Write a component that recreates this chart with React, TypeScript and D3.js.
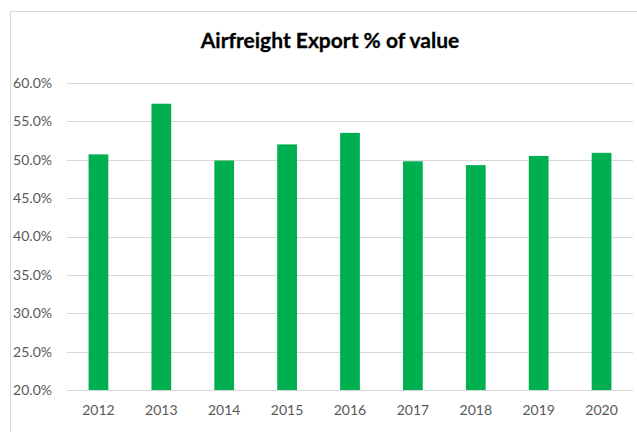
import React from 'react';
import * as d3 from 'd3';

const years = ['2012', '2013', '2014', '2015', '2016', '2017', '2018', '2019', '2020'];
const exportShare = [50.7, 57.3, 49.9, 52.0, 53.5, 49.8, 49.3, 50.5, 50.9];
const yTicks = [20, 25, 30, 35, 40, 45, 50, 55, 60];

const W = 637;
const H = 432;
const margin = { top: 83, right: 4, bottom: 42, left: 67 };

export default function App() {
  const x = d3
    .scaleBand()
    .domain(years)
    .range([margin.left, W - margin.right])
    .paddingInner(0.686)
    .paddingOuter(0.343);

  const y = d3.scaleLinear().domain([20, 60]).range([H - margin.bottom, margin.top]);

  const font = 'Lato, "Open Sans", sans-serif';

  return (
    <svg
      width={W}
      height={H}
      style={{ position: 'absolute', left: 0, top: 0, background: '#fff' }}
    >
      {/* chart area border */}
      <rect x={10.5} y={11.5} width={W} height={H} fill="none" stroke="#d9d9d9" />
      <text
        x={330}
        y={48}
        textAnchor="middle"
        fontFamily={font}
        fontWeight="bold"
        fontSize={21}
        stroke="#000"
        strokeWidth={0.3}
        fill="#000"
      >
        Airfreight Export % of value
      </text>

      {yTicks.map((t) => (
        <g key={t}>
          <line
            x1={margin.left}
            x2={W - margin.right}
            y1={Math.round(y(t)) + 0.5}
            y2={Math.round(y(t)) + 0.5}
            stroke="#d9d9d9"
          />
          <text
            x={52}
            y={y(t)}
            dy="0.35em"
            textAnchor="end"
            fontFamily={font}
            fontSize={14}
            fill="#595959"
          >
            {t.toFixed(1)}%
          </text>
        </g>
      ))}

      {years.map((yr, i) => (
        <rect
          key={yr}
          x={x(yr)}
          y={y(exportShare[i])}
          width={x.bandwidth()}
          height={y(20) - y(exportShare[i])}
          fill="#00b050"
        />
      ))}

      {years.map((yr) => (
        <text
          key={yr}
          x={(x(yr) as number) + x.bandwidth() / 2}
          y={415}
          textAnchor="middle"
          fontFamily={font}
          fontSize={14}
          fill="#595959"
        >
          {yr}
        </text>
      ))}
    </svg>
  );
}
